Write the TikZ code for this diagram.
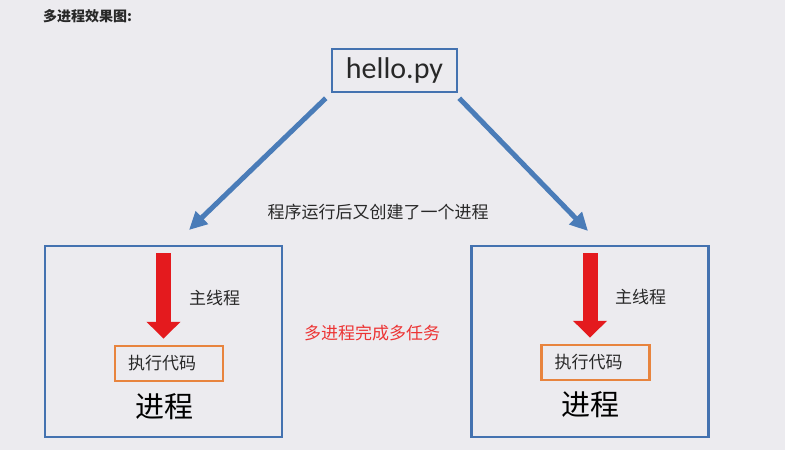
\documentclass[tikz,border=0pt]{standalone}
\usepackage{fontspec}
\setmainfont{Noto Sans CJK SC}
\newfontfamily\latinfont{Carlito}
\usepackage{xcolor}
\usetikzlibrary{arrows.meta,positioning}
\definecolor{bgcol}{RGB}{236,235,239}
\definecolor{boxblue}{RGB}{68,114,176}
\definecolor{linkblue}{RGB}{74,124,184}
\definecolor{codeorange}{RGB}{232,132,62}
\definecolor{threadred}{RGB}{228,26,30}
\definecolor{notered}{RGB}{236,52,52}
\definecolor{txt}{RGB}{40,40,40}
\tikzset{
  procbox/.style={
    rectangle, draw=boxblue, line width=2.5pt,
    minimum width=237pt, minimum height=191pt
  },
  filebox/.style={
    rectangle, draw=boxblue, line width=2.5pt,
    minimum width=125pt, minimum height=43pt,
    font=\latinfont\fontsize{30}{34}\selectfont, text=txt
  },
  codebox/.style={
    rectangle, draw=codeorange, line width=2.5pt,
    minimum height=35pt, text width=82pt, inner xsep=13pt,
    align=left, font=\fontsize{17}{20}\selectfont, text=txt
  },
  label/.style={font=\fontsize{17}{20}\selectfont, text=txt, inner sep=0pt},
  biglabel/.style={font=\fontsize{29}{32}\selectfont, text=black, inner sep=0pt},
  spawn/.style={-{Triangle[width=17pt,length=18pt]}, line width=5pt, color=linkblue},
  mainflow/.style={-{Triangle[width=33pt,length=17pt]}, line width=15pt,
    color=threadred, shorten >=6pt},
}
\begin{document}
\begin{tikzpicture}[x=1pt,y=-1pt]

  % background
  \fill[bgcol] (0,0) rectangle (785,450);
  \useasboundingbox (0,0) rectangle (785,450);

  % title
  \node[anchor=west, inner sep=0pt, text=txt,
        font=\bfseries\fontsize{14}{16}\selectfont] (title) at (43,16) {多进程效果图:};

  % program file
  \node[filebox] (hello) at (394.5,70.5) {hello.py};

  % the two processes
  \node[procbox] (procL) at (163.5,341.5) {};
  \node[procbox] (procR) at (590,341.5) {};

  % spawn arrows
  \coordinate (tipL) at (189,230);
  \coordinate (tipR) at (588,231);
  \draw[spawn] ([shift={(-5,5)}]hello.south west) -- (tipL);
  \draw[spawn] ([shift={(1,5)}]hello.south east) -- (tipR);

  \node[label] (created) at (378,212) {程序运行后又创建了一个进程};
  \node[label, text=notered] (multi) at (372,333) {多进程完成多任务};

  % left process content
  \node[codebox] (codeL) at (169,363.5) {执行代码};
  \coordinate (thrL) at (163.5,253);
  \draw[mainflow] (thrL) -- (thrL |- codeL.north);
  \node[label, anchor=west] (mainL) at (189,298) {主线程};
  \node[biglabel] (nameL) at (164.5,407) {进程};

  % right process content
  \node[codebox] (codeR) at (595.5,362.5) {执行代码};
  \coordinate (thrR) at (590,253);
  \draw[mainflow] (thrR) -- (thrR |- codeR.north);
  \node[label, anchor=west] (mainR) at (615,297) {主线程};
  \node[biglabel] (nameR) at (590,405) {进程};

\end{tikzpicture}
\end{document}
